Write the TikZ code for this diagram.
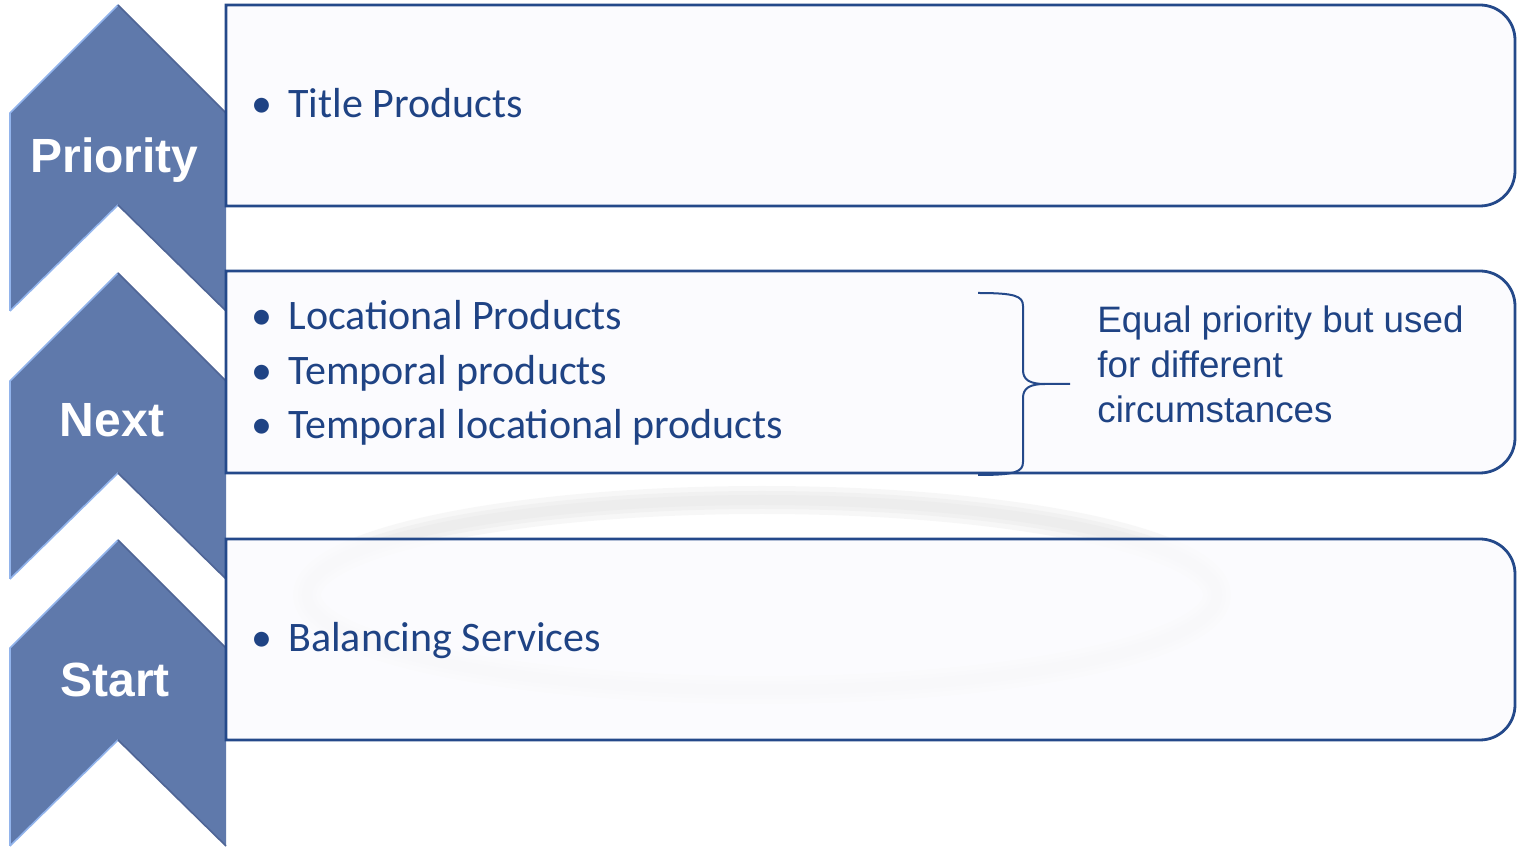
\documentclass[tikz,border=0pt]{standalone}
\usepackage{fontspec}
\setmainfont{Liberation Sans}
\newfontfamily\calib{Carlito}
\definecolor{chev}{HTML}{5F79AB}
\definecolor{chevhi}{HTML}{92B4EC}
\definecolor{chevlo}{HTML}{4F6596}
\definecolor{bord}{HTML}{24498A}
\definecolor{boxfill}{HTML}{FBFBFE}
\definecolor{txt}{HTML}{1F4384}
\definecolor{wm}{HTML}{E2E2E2}
\newcommand\mychev[1]{%
  \fill[chev] (118,#1) -- (226,#1+108) -- (226,#1+306) -- (118,#1+200) -- (10,#1+306) -- (10,#1+108) -- cycle;
  \draw[chevhi,line width=0.8pt] (10,#1+306) -- (10,#1+108) -- (118,#1);
  \draw[chevhi,line width=0.8pt] (10,#1+306) -- (118,#1+200);
  \draw[chevlo,line width=0.8pt] (118,#1) -- (226,#1+108);
  \draw[chevlo,line width=0.8pt] (118,#1+200) -- (226,#1+306);
}
\newcommand\mybox[2]{%
  \draw[bord,line width=1.4pt,fill=boxfill,fill opacity=0.8] (226,#1) -- (1480,#1)
    .. controls (1499.3,#1) and (1515,#1+15.7) .. (1515,#1+35) -- (1515,#2-35)
    .. controls (1515,#2-15.7) and (1499.3,#2) .. (1480,#2) -- (226,#2) -- cycle;
}
\begin{document}
\begin{tikzpicture}[x=0.5pt,y=-0.5pt,
  bul/.style={anchor=base,inner sep=0pt,text=txt,font=\calib\fontsize{21}{26}\selectfont},
  item/.style={anchor=base west,inner sep=0pt,text=txt,font=\calib\fontsize{21}{26}\selectfont},
  note/.style={anchor=base west,inner sep=0pt,text=txt,font=\fontsize{18.4}{22.5}\selectfont},
  chevlabel/.style={anchor=base,inner sep=0pt,text=white,font=\bfseries\fontsize{24}{28}\selectfont},
  wmark/.style={wm,opacity=0.25},
  bracepath/.style={draw=bord,line width=1pt}]
\useasboundingbox[fill=white] (0,0) rectangle (1517,849);
% faint watermark
\draw[wmark,line width=14pt] (762,595) ellipse [x radius=455, y radius=95];
\draw[wmark,line width=9pt] (762,595) ellipse [x radius=455, y radius=95];
\draw[wmark,line width=5pt] (762,595) ellipse [x radius=455, y radius=95];
% chevrons
\mychev{5}
\mychev{273}
\mychev{540}
\node[chevlabel] (lp) at (114.5,173) {Priority};
\node[chevlabel] (ln) at (112,437) {Next};
\node[chevlabel] (ls) at (115,697) {Start};
% boxes
\mybox{5}{206}
\mybox{271}{473}
\mybox{539}{740}
% box 1
\node[bul] (b1) at (262,118) {•};
\node[item] (t1) at (288,118) {Title Products};
% box 2
\node[bul] (b2) at (262,330) {•};
\node[item] (t2) at (288,330) {Locational Products};
\node[bul] (b3) at (262,385) {•};
\node[item] (t3) at (288,385) {Temporal products};
\node[bul] (b4) at (262,439) {•};
\node[item] (t4) at (288,439) {Temporal locational products};
% brace
\coordinate (brtop) at (978,293);
\coordinate (brtip) at (1070,384);
\coordinate (brbot) at (978,475);
\draw[bracepath] (brtop) .. controls (1015,293) and (1023,296) .. (1023,306) -- (1023,370)
  .. controls (1023,380) and (1030,384) .. (1045,384) -- (brtip);
\draw[bracepath] (1045,384) .. controls (1030,384) and (1023,388) .. (1023,398) -- (1023,462)
  .. controls (1023,472) and (1015,475) .. (brbot);
\node[note] (e1) at (1097,333) {Equal priority but used};
\node[note] (e2) at (1097,378) {for different};
\node[note] (e3) at (1097,423) {circumstances};
% box 3
\node[bul] (b5) at (262,652) {•};
\node[item] (t5) at (288,652) {Balancing Services};
\end{tikzpicture}
\end{document}
